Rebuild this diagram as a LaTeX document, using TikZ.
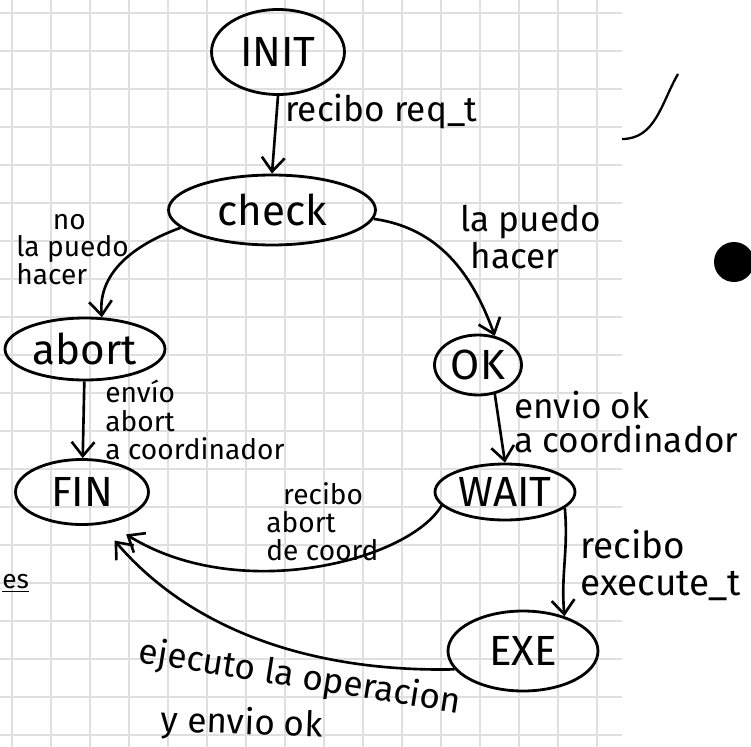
\documentclass[tikz,border=0pt]{standalone}
\usepackage{fontspec}
\setmainfont{Fira Sans}
\usetikzlibrary{shapes.geometric,arrows.meta}

\tikzset{
  state/.style={draw, ellipse, line width=1.6pt, inner sep=0pt,
    font=\fontsize{24}{26}\selectfont},
  trans/.style={line width=1.5pt, -{Straight Barb[length=8pt,width=13pt,line width=1.5pt]}},
  lbl/.style={align=left, inner sep=0pt, font=\fontsize{20}{21}\selectfont},
  gridline/.style={gray!25, line width=0.7pt},
}
\newcommand{\stname}[1]{\makebox[0pt]{#1}}

\begin{document}
\begin{tikzpicture}[x=0.02cm,y=-0.02cm]
  \useasboundingbox (0,0) rectangle (751,747);

  % squared paper
  \foreach \gx in {12,51,...,622}
    \draw[gridline] (\gx,0) -- (\gx,747);
  \foreach \gy in {13,51,...,747}
    \draw[gridline] (0,\gy) -- (622,\gy);

  % states
  \node[state, minimum width=2.66cm, minimum height=1.7cm] (init) at (278,52) {\stname{INIT}};
  \node[state, minimum width=4.14cm, minimum height=1.4cm] (check) at (272,210) {\stname{check}};
  \node[state, minimum width=3.2cm, minimum height=1.24cm] (abort) at (85,349) {\stname{abort}};
  \node[state, minimum width=1.74cm, minimum height=1.2cm] (ok) at (478,365) {\stname{OK}};
  \node[state, minimum width=2.66cm, minimum height=1.3cm] (fin) at (82,492) {\stname{FIN}};
  \node[state, minimum width=2.8cm, minimum height=1.12cm] (wait) at (505,492) {\stname{WAIT}};
  \node[state, minimum width=3cm, minimum height=1.6cm] (exe) at (523,651) {\stname{EXE}};

  % transitions
  \draw[trans] (init.south) -- (check.north);
  \draw[trans] (check.191) to[out=200,in=95] (abort.62);
  \draw[trans] (check.355) to[out=-8,in=110] (ok.60);
  \draw[trans] (abort) -- (fin);
  \draw[trans] (ok.-60) -- (wait.north);
  \draw[trans, shorten >=12pt] (wait.192) .. controls (410,560) and (240,605) .. (fin.-50);
  \draw[trans] (wait.-15) to[out=-85,in=95] (exe.40);
  \draw[trans, shorten >=12pt] (exe.195) .. controls (330,672) and (200,640) .. (fin.-60);

  % labels
  \node[lbl, anchor=west] (lreq) at (285,112) {recibo req\_t};
  \node[lbl, anchor=west, font=\fontsize{16}{15}\selectfont] (lno) at (16,250)
    {\hspace{1.3em}no\\la puedo\\hacer};
  \node[lbl, anchor=west] (lsi) at (460,237) {la puedo\\\hspace{0.3em}hacer};
  \node[lbl, anchor=west, font=\fontsize{16}{16}\selectfont] (lab) at (105,420)
    {envío\\abort\\a coordinador};
  \node[lbl, anchor=west, font=\fontsize{20}{19}\selectfont] (lok) at (514,422)
    {envio ok\\a coordinador};
  \node[lbl, anchor=west, font=\fontsize{16}{16}\selectfont] (lwab) at (266,522)
    {\hspace{0.6em}recibo\\abort\\de coord};
  \node[lbl, anchor=west, font=\fontsize{21}{21}\selectfont] (lexe) at (580,565)
    {recibo\\execute\_t};
  \node[lbl, rotate=-9] (lej) at (300,678) {ejecuto la operacion};
  \node[lbl, rotate=-2] (lenv) at (242,724) {y envio ok};

  % stray marks on the sheet
  \node[lbl, anchor=west, font=\fontsize{15}{15}\selectfont] (les) at (2,583) {\underline{es}};
  \draw[line width=1.3pt] (622,139) to[out=0,in=240] (678,74);
  \fill (734,262) circle[radius=20];
\end{tikzpicture}
\end{document}
